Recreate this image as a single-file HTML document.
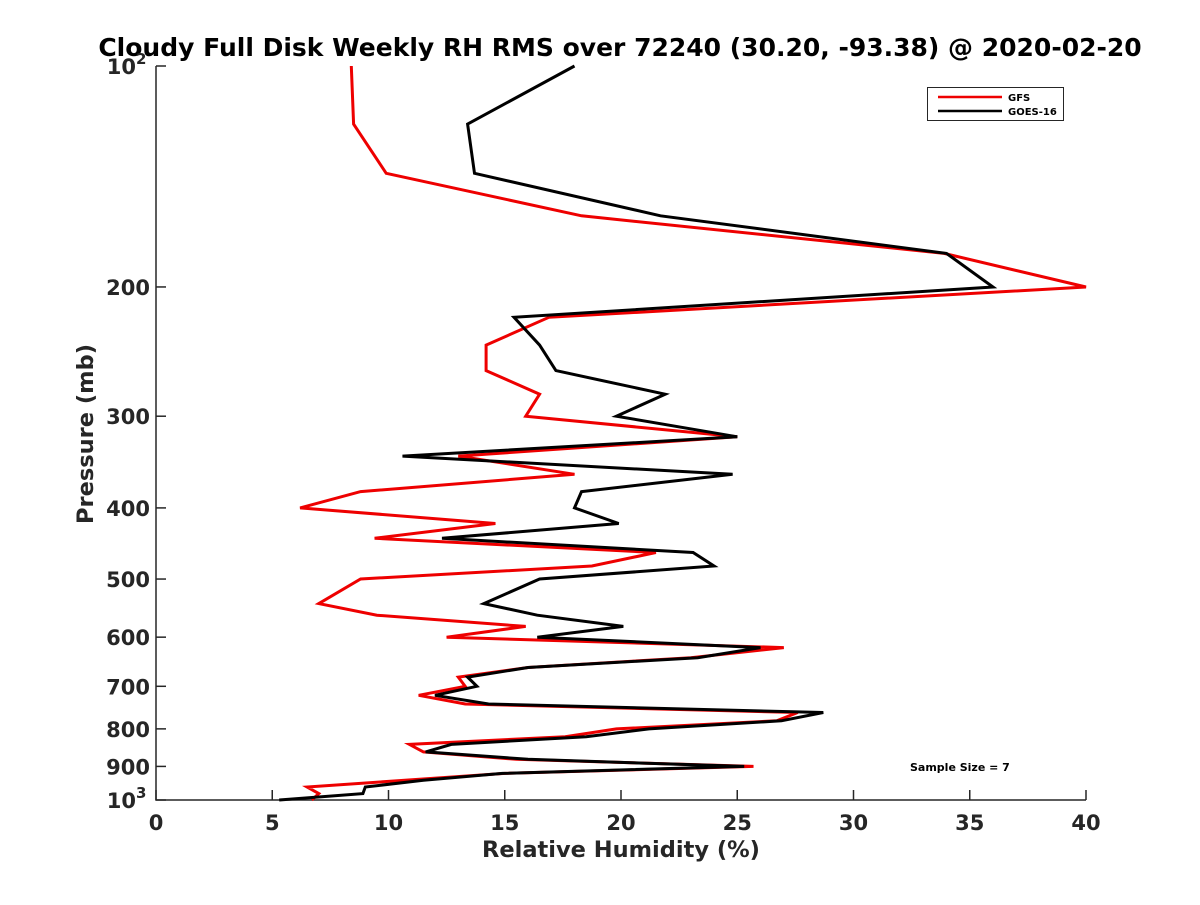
<!DOCTYPE html>
<html><head><meta charset="utf-8"><style>
body{margin:0;background:#fff;}
svg text{font-family:"DejaVu Sans","Liberation Sans",sans-serif;font-weight:bold;}
</style></head><body>
<svg id="chart" width="1200" height="900" viewBox="0 0 1200 900" xmlns="http://www.w3.org/2000/svg">
<rect width="1200" height="900" fill="#fff"/>
<text x="620" y="56" font-size="25" text-anchor="middle" fill="#000">Cloudy Full Disk Weekly RH RMS over 72240 (30.20, -93.38) @ 2020-02-20</text>
<g id="axes"></g>
<g id="series"></g>
<g>
<rect x="927.5" y="87.5" width="136" height="33" fill="#fff" stroke="#262626" stroke-width="1"/>
<line x1="938" y1="97" x2="1002" y2="97" stroke="#e00" stroke-width="2.5"/>
<text x="1008" y="101" font-size="10" fill="#000">GFS</text>
<line x1="938" y1="111" x2="1002" y2="111" stroke="#000" stroke-width="2.5"/>
<text x="1008" y="115" font-size="10" fill="#000">GOES-16</text>
</g>
<text x="910" y="771" font-size="11" fill="#000">Sample Size = 7</text>
<text x="621" y="857" font-size="22.5" text-anchor="middle" fill="#262626">Relative Humidity (%)</text>
<text transform="translate(93,434) rotate(-90)" font-size="22.5" text-anchor="middle" fill="#262626">Pressure (mb)</text>
</svg>
<script>
const pressures = [100,120,140,160,180,200,220,240,260,280,300,320,340,360,380,400,420,440,460,480,500,540,560,580,600,620,640,660,680,700,720,740,760,780,800,820,840,860,880,900,920,940,960,980,1000];
const gfsValues = [8.4,8.5,9.9,18.3,33.9,40,16.9,14.2,14.2,16.5,15.9,25,13.0,18.0,8.8,6.2,14.6,9.4,21.5,18.75,8.8,7.0,9.5,15.9,12.5,27.0,23.0,16.0,13.0,13.3,11.3,13.3,27.6,26.7,19.8,17.6,10.9,11.5,15.5,25.7,15.0,10.7,6.5,7.0,6.7];
const goesValues = [18,13.4,13.7,21.7,34,36,15.4,16.5,17.2,21.9,19.8,25,10.6,24.8,18.3,18.0,19.9,12.3,23.1,24.0,16.5,14.1,16.4,20.1,16.4,26.0,23.3,16.0,13.4,13.8,12.0,14.3,28.7,26.9,21.2,18.5,12.7,11.6,16.0,25.3,14.9,11.5,9.0,8.9,5.3];
const xTicks = [0,5,10,15,20,25,30,35,40];
const yTicks = [100,200,300,400,500,600,700,800,900,1000];
const yTickLabels = ["10²","200","300","400","500","600","700","800","900","10³"];

const X0=156,X1=1086,Y0=66,Y1=800;
const xs=v=>X0+(v-0)/(40-0)*(X1-X0);
const ys=p=>Y0+(Math.log10(p)-2)/(3-2)*(Y1-Y0);
const NS="http://www.w3.org/2000/svg";
function mk(tag,attrs,parent){const e=document.createElementNS(NS,tag);for(const k in attrs)e.setAttribute(k,attrs[k]);parent.appendChild(e);return e;}
const axes=document.getElementById('axes');
const ax=mk('path',{d:`M${X0} ${Y0}V${Y1}H${X1}`,fill:'none',stroke:'#262626','stroke-width':1.5},axes);


xTicks.forEach(t=>{
  const x=xs(t);
  const l=mk('line',{x1:x,y1:Y1,x2:x,y2:Y1-10,stroke:'#262626','stroke-width':1.5},axes);
  
  
  const tx=mk('text',{x:x,y:Y1+30,'font-size':21,'text-anchor':'middle',fill:'#262626'},axes);
  tx.textContent=t;
  
  
});
yTicks.forEach((t,i)=>{
  const y=ys(t);
  const l=mk('line',{x1:X0,y1:y,x2:X0+10,y2:y,stroke:'#262626','stroke-width':1.5},axes);
  
  
  const tx=mk('text',{x:X0-6,y:y+8,'font-size':21,'text-anchor':'end',fill:'#262626'},axes);
  const lab=yTickLabels[i];
  if(lab.length===3&&(lab[2]==='²'||lab[2]==='³')){
    tx.textContent='10';
    tx.setAttribute('x',X0-20);
    const s=mk('text',{x:X0-20,y:y-2,'font-size':15,'text-anchor':'start',fill:'#262626'},axes);
    s.textContent=lab[2]==='²'?'2':'3';
    
    
  } else tx.textContent=lab;
  
  
});
const ser=document.getElementById('series');
function line(vals,color,name){
  const d=vals.map((v,i)=>(i?'L':'M')+xs(v).toFixed(1)+' '+ys(pressures[i]).toFixed(1)).join('');
  const p=mk('path',{d:d,fill:'none',stroke:color,'stroke-width':3,'stroke-linejoin':'miter'},ser);
  
  
}
line(gfsValues,'#e00','gfs-line');
line(goesValues,'#000','goes16-line');
</script>
</body></html>
